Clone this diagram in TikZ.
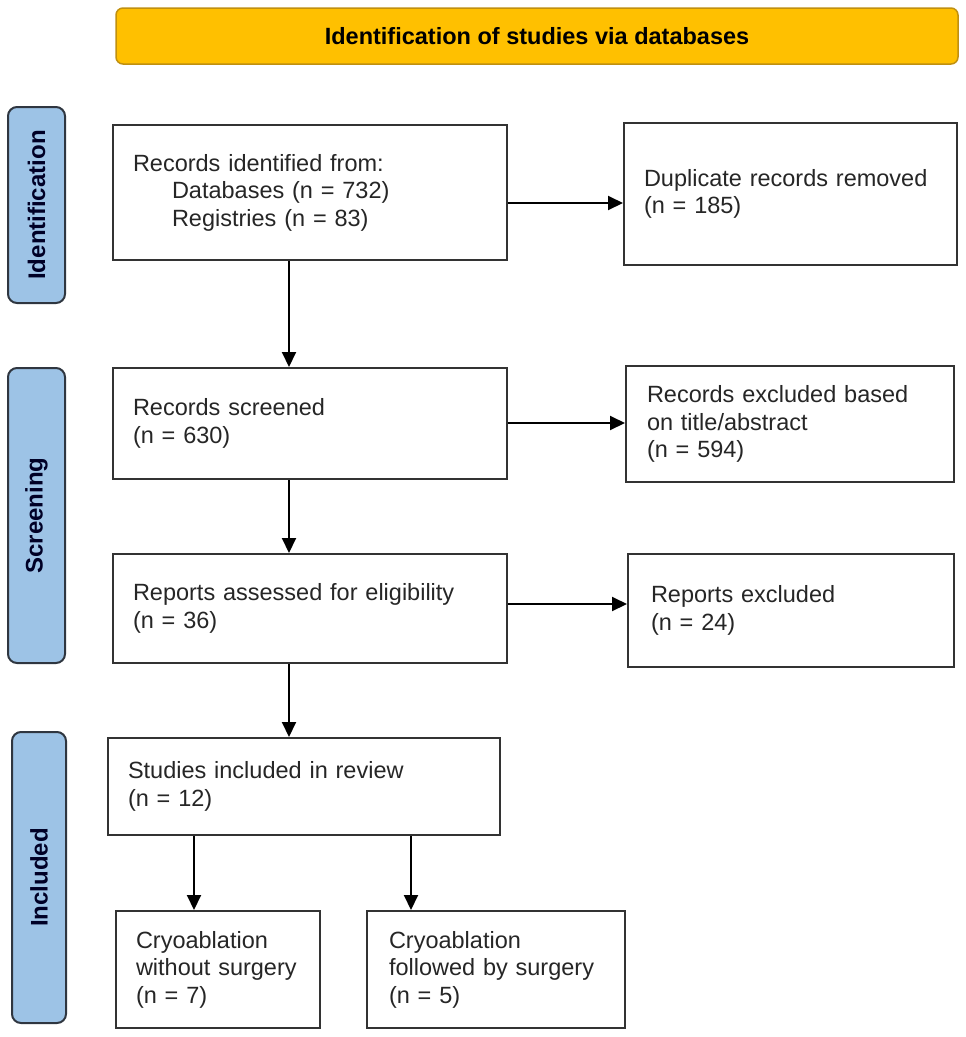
\documentclass[tikz,border=0pt]{standalone}
\usepackage{fontspec}
\setmainfont{Liberation Sans}
\usetikzlibrary{arrows.meta}
\definecolor{hdrfill}{HTML}{FFC000}
\definecolor{hdrline}{HTML}{C09010}
\definecolor{sidefill}{HTML}{9DC3E6}
\definecolor{sideline}{HTML}{2F3640}
\definecolor{boxline}{HTML}{333333}
\tikzset{
  hdrbox/.style={draw=hdrline, line width=1.5pt, fill=hdrfill, rounded corners=7pt,
    font=\fontsize{23.5}{28}\selectfont\bfseries, text=black, inner sep=0pt},
  sidebox/.style={draw=sideline, line width=2pt, fill=sidefill, rounded corners=9pt,
    inner sep=0pt},
  sidetext/.style={rotate=90, font=\fontsize{24}{28}\selectfont\bfseries, text=black!85!blue},
  flowbox/.style={draw=boxline, line width=2pt, fill=white, align=left,
    font=\fontsize{23.5}{27.5}\selectfont, text=black!85, inner ysep=0pt},
  conn/.style={line width=2pt, -{Triangle[length=15pt,width=14pt]}}
}
\begin{document}
\begin{tikzpicture}[x=1pt,y=-1pt]
\useasboundingbox (0,0) rectangle (966,1037);
% header
\node[hdrbox, minimum width=842pt, minimum height=56pt] (hdr) at (537,36) {Identification of studies via databases};
% side labels
\node[sidebox, minimum width=57pt, minimum height=196pt] (sid1) at (36.5,205) {};
\node[sidetext] (sid1t) at (sid1.center) {Identification};
\node[sidebox, minimum width=57pt, minimum height=295pt] (sid2) at (36.5,515.5) {};
\node[sidetext] (sid2t) at (sid2.center) {Screening};
\node[sidebox, minimum width=54pt, minimum height=291pt] (sid3) at (39,877.5) {};
\node[sidetext] (sid3t) at (sid3.center) {Included};
% flow boxes
\node[flowbox, inner xsep=20pt, text width=354pt, minimum height=135pt] (recid) at (310,192.5)
  {Records identified from:\\\hspace*{39pt}Databases (n = 732)\\\hspace*{39pt}Registries (n = 83)};
\node[flowbox, inner xsep=20pt, text width=293pt, minimum height=142pt] (dup) at (790.5,194)
  {Duplicate records removed\\(n = 185)};
\node[flowbox, inner xsep=20pt, text width=354pt, minimum height=111pt] (scr) at (310,423.5)
  {Records screened\\(n = 630)};
\node[flowbox, inner xsep=21pt, text width=286pt, minimum height=116pt] (exc1) at (790,424)
  {Records excluded based\\on title/abstract\\(n = 594)};
\node[flowbox, inner xsep=20pt, text width=354pt, minimum height=109pt] (rep) at (310,608.5)
  {Reports assessed for eligibility\\(n = 36)};
\node[flowbox, inner xsep=23pt, text width=280pt, minimum height=113pt] (exc2) at (791,610.5)
  {Reports excluded\\(n = 24)};
\node[flowbox, inner xsep=20pt, text width=352pt, minimum height=97pt] (inc) at (304,786.5)
  {Studies included in review\\(n = 12)};
\node[flowbox, inner xsep=20pt, text width=164pt, minimum height=117pt] (cr1) at (218,969.5)
  {Cryoablation\\without surgery\\(n = 7)};
\node[flowbox, inner xsep=22pt, text width=214pt, minimum height=117pt] (cr2) at (496,969.5)
  {Cryoablation\\followed by surgery\\(n = 5)};
% guide coordinates
\coordinate (vx) at (289,0);
\coordinate (v1) at (194,0);
\coordinate (v2) at (411,0);
\coordinate (h1) at (0,203);
\coordinate (h2) at (0,423);
\coordinate (h3) at (0,604);
% connectors
\draw[conn] (recid.south -| vx) -- (scr.north -| vx);
\draw[conn] (scr.south -| vx) -- (rep.north -| vx);
\draw[conn] (rep.south -| vx) -- (inc.north -| vx);
\draw[conn] (recid.east |- h1) -- (dup.west |- h1);
\draw[conn] (scr.east |- h2) -- (exc1.west |- h2);
\draw[conn] (rep.east |- h3) -- (exc2.west |- h3);
\draw[conn] (inc.south -| v1) -- (cr1.north -| v1);
\draw[conn] (inc.south -| v2) -- (cr2.north -| v2);
\end{tikzpicture}
\end{document}
